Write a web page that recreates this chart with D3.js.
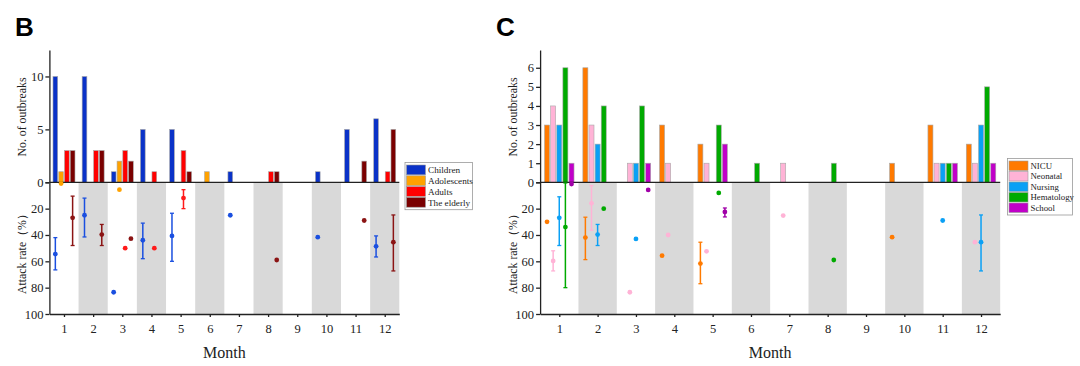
<!DOCTYPE html>
<html><head><meta charset="utf-8">
<script src="https://cdn.jsdelivr.net/npm/d3@7"></script>
<style>body{margin:0;background:#fff;} svg{display:block;} svg text{font-family:"Liberation Serif","Times New Roman",serif;}</style>
</head><body><svg id="c" width="1080" height="366"></svg>
<script>
// ---------- shared ----------
const months = [1,2,3,4,5,6,7,8,9,10,11,12];
const monthLabels = ["1","2","3","4","5","6","7","8","9","10","11","12"];
const rateTicks = [0,20,40,60,80,100];

// ---------- Panel B ----------
const seriesB = ["Children","Adolescents","Adults","The elderly"];
const barColorsB = ["#0a32c8","#ffa200","#ff0000","#7a0000"];
const dotColorsB = ["#1a4fe0","#ffa200","#ff1a1a","#8b1414"];
const countTicksB = [0,5,10];
const childrenCount    = [10,10,1,5,5,0,1,0,0,1,5,6];
const adolescentsCount = [1,0,2,0,0,1,0,0,0,0,0,0];
const adultsCount      = [3,3,3,1,3,0,0,1,0,0,0,1];
const elderlyCount     = [3,3,2,0,1,0,0,1,0,0,2,5];
const childrenRate    = [54.5,25,83.5,44,40.7,null,25,null,null,41.7,null,48.6];
const childrenLo      = [42,12,null,31,23.5,null,null,null,null,null,null,40.7];
const childrenHi      = [66.5,41.5,null,58,60,null,null,null,null,null,null,56.7];
const adolescentsRate = [1,null,5.6,null,null,null,null,null,null,null,null,null];
const adolescentsLo   = [null,null,null,null,null,null,null,null,null,null,null,null];
const adolescentsHi   = [null,null,null,null,null,null,null,null,null,null,null,null];
const adultsRate      = [null,null,50,50,12,null,null,null,null,null,null,null];
const adultsLo        = [null,null,null,null,5.6,null,null,null,null,null,null,null];
const adultsHi        = [null,null,null,null,20,null,null,null,null,null,null,null];
const elderlyRate     = [27,39.7,42.8,null,null,null,null,59,null,null,29,45.5];
const elderlyLo       = [10.5,32,null,null,null,null,null,null,null,null,null,24.8];
const elderlyHi       = [48,48,null,null,null,null,null,null,null,null,null,67.3];

// ---------- Panel C ----------
const seriesC = ["NICU","Neonatal","Nursing","Hematology","School"];
const barColorsC = ["#ff7a00","#ffb3d6","#0aa0f5","#00aa00","#c000c8"];
const dotColorsC = ["#ff7a00","#ffb3d6","#0aa0f5","#00aa00","#a000a8"];
const countTicksC = [0,1,2,3,4,5,6];
const nicuCount       = [3,6,0,3,2,0,0,0,0,1,3,2];
const neonatalCount   = [4,3,1,1,1,0,1,0,0,0,1,1];
const nursingCount    = [3,2,1,0,0,0,0,0,0,0,1,3];
const hematologyCount = [6,4,4,0,3,1,0,1,0,0,1,5];
const schoolCount     = [1,0,1,0,2,0,0,0,0,0,1,1];
const nicuRate        = [30,42,null,55.7,61.7,null,null,null,null,41.7,null,null];
const nicuLo          = [null,26.5,null,null,45.5,null,null,null,null,null,null,null];
const nicuHi          = [null,58.7,null,null,77,null,null,null,null,null,null,null];
const neonatalRate    = [59.7,16,83.5,40,52.4,null,25.3,null,null,null,null,45.5];
const neonatalLo      = [52,2.5,null,null,null,null,null,null,null,null,null,null];
const neonatalHi      = [67.3,36.4,null,null,null,null,null,null,null,null,null,null];
const nursingRate     = [27,39.7,43,null,null,null,null,null,null,null,29,45.5];
const nursingLo       = [11,32,null,null,null,null,null,null,null,null,null,24.8];
const nursingHi       = [48,48,null,null,null,null,null,null,null,null,null,67.3];
const hematologyRate  = [34,20,null,null,8.1,null,null,59,null,null,null,null];
const hematologyLo    = [0.5,null,null,null,null,null,null,null,null,null,null,null];
const hematologyHi    = [80,null,null,null,null,null,null,null,null,null,null,null];
const schoolRate      = [1.3,null,5.8,null,22.5,null,null,null,null,null,null,null];
const schoolLo        = [null,null,null,null,19.5,null,null,null,null,null,null,null];
const schoolHi        = [null,null,null,null,26.3,null,null,null,null,null,null,null];

const svg = d3.select("#c");
const SERIF = "Liberation Serif, Times New Roman, serif";
const Y_TOP = 50, Y_ZERO = 182.3, Y_BOT = 314;

function drawPanel(cfg) {
  const g = svg.append("g");
  const x = d3.scaleLinear().domain([0.5, 12.5]).range([cfg.x0, cfg.x1]);
  const yTop = d3.scaleLinear().domain([0, cfg.topMax]).range([Y_ZERO, Y_TOP]);
  const yBot = d3.scaleLinear().domain([0, 100]).range([Y_ZERO, Y_BOT]);
  const band = d3.scaleBand().domain(cfg.series).range([-cfg.groupW/2, cfg.groupW/2]).paddingInner(0.18);

  // shaded bands (even months) in lower panel
  g.selectAll("rect.shade").data(months.filter(m => m % 2 === 0)).join("rect")
    .attr("x", m => x(m - 0.5)).attr("width", m => x(m + 0.5) - x(m - 0.5))
    .attr("y", Y_ZERO).attr("height", Y_BOT - Y_ZERO).attr("fill", "#d9d9d9");

  // bars
  cfg.series.forEach((s, i) => {
    const data = months.map((m, j) => ({m, v: cfg.counts[i][j]})).filter(d => d.v > 0);
    g.selectAll(null).data(data).join("rect")
      .attr("x", d => x(d.m) + band(s)).attr("width", band.bandwidth())
      .attr("y", d => yTop(d.v)).attr("height", d => yTop(0) - yTop(d.v))
      .attr("fill", cfg.barColors[i]).attr("stroke", "#a8a8a8").attr("stroke-width", 0.6);
  });

  // zero line
  g.append("line").attr("x1", x(0.5)).attr("x2", x(12.5)).attr("y1", Y_ZERO).attr("y2", Y_ZERO)
    .attr("stroke", "#222").attr("stroke-width", 1.3);

  // axes
  const fmt = d3.format("d");
  const axTop = g.append("g").attr("transform", `translate(${x(0.5)},0)`)
    .call(d3.axisLeft(yTop).tickValues(cfg.countTicks).tickFormat(fmt).tickSize(4).tickSizeOuter(0).tickPadding(2));
  const axBot = g.append("g").attr("transform", `translate(${x(0.5)},0)`)
    .call(d3.axisLeft(yBot).tickValues(rateTicks).tickFormat(fmt).tickSize(4).tickSizeOuter(0).tickPadding(2));
  axBot.selectAll(".tick").filter(d => d === 0).select("text").remove();
  const axX = g.append("g").attr("transform", `translate(0,${Y_BOT})`)
    .call(d3.axisBottom(x).tickValues(months).tickFormat((d, i) => monthLabels[i]).tickSize(3).tickSizeOuter(0).tickPadding(7));
  [axTop, axBot, axX].forEach(a => {
    a.attr("font-family", SERIF).attr("font-size", 12.5);
    a.selectAll("text").style("font-family", SERIF).attr("fill", "#222");
    a.selectAll("line,path").attr("stroke", "#222").attr("stroke-width", 1.3);
  });

  // attack-rate points and error bars
  cfg.series.forEach((s, i) => {
    const cx = m => x(m) + band(s) + band.bandwidth() / 2;
    const pts = months.map((m, j) => ({m, v: cfg.rates[i][j], lo: cfg.los[i][j], hi: cfg.his[i][j]})).filter(d => d.v != null);
    const err = pts.filter(d => d.lo != null);
    const col = cfg.dotColors[i];
    g.selectAll(null).data(err).join("line")
      .attr("x1", d => cx(d.m)).attr("x2", d => cx(d.m)).attr("y1", d => yBot(d.lo)).attr("y2", d => yBot(d.hi))
      .attr("stroke", col).attr("stroke-width", 1.5);
    ["lo", "hi"].forEach(k => {
      g.selectAll(null).data(err).join("line")
        .attr("x1", d => cx(d.m) - 2).attr("x2", d => cx(d.m) + 2).attr("y1", d => yBot(d[k])).attr("y2", d => yBot(d[k]))
        .attr("stroke", col).attr("stroke-width", 1.3);
    });
    g.selectAll(null).data(pts).join("circle")
      .attr("cx", d => cx(d.m)).attr("cy", d => yBot(d.v)).attr("r", 2.4).attr("fill", col);
  });

  // labels
  g.append("text").attr("x", cfg.letterX).attr("y", 36).text(cfg.letter)
    .style("font-family", "Liberation Sans, Arial, sans-serif").attr("font-weight", "bold").attr("font-size", 26).attr("fill", "#000");
  g.append("text").attr("transform", `translate(${cfg.x0 - 23},117) rotate(-90)`).attr("text-anchor", "middle")
    .style("font-family", SERIF).attr("font-size", 11.8).attr("fill", "#222").text("No. of outbreaks");
  g.append("text").attr("transform", `translate(${cfg.x0 - 23},251) rotate(-90)`).attr("text-anchor", "middle")
    .style("font-family", SERIF).attr("font-size", 11.8).attr("fill", "#222").text("Attack rate（%）");
  g.append("text").attr("x", (cfg.x0 + cfg.x1) / 2).attr("y", 358).attr("text-anchor", "middle")
    .style("font-family", SERIF).attr("font-size", 16).attr("fill", "#222").text("Month");

  // legend
  const L = cfg.legend;
  const lg = svg.append("g").attr("transform", `translate(${L.x},${L.y})`);
  lg.append("rect").attr("x", 0).attr("y", 0).attr("width", L.w).attr("height", cfg.series.length * L.row + 4)
    .attr("fill", "#fff").attr("stroke", "#999").attr("stroke-width", 0.8);
  cfg.series.forEach((s, i) => {
    lg.append("rect").attr("x", 1.5).attr("y", 2 + i * L.row + 0.5).attr("width", 19).attr("height", L.row - 1)
      .attr("fill", cfg.barColors[i]).attr("stroke", "#999").attr("stroke-width", 0.6);
    lg.append("text").attr("x", 23).attr("y", 2 + i * L.row + L.row / 2).attr("dy", "0.35em")
      .style("font-family", SERIF).attr("font-size", L.fs).attr("fill", "#222").text(s);
  });
}

drawPanel({
  x0: 49.4, x1: 399.3, topMax: 12.5, countTicks: countTicksB, series: seriesB,
  barColors: barColorsB, dotColors: dotColorsB, groupW: 22,
  counts: [childrenCount, adolescentsCount, adultsCount, elderlyCount],
  rates: [childrenRate, adolescentsRate, adultsRate, elderlyRate],
  los: [childrenLo, adolescentsLo, adultsLo, elderlyLo],
  his: [childrenHi, adolescentsHi, adultsHi, elderlyHi],
  letter: "B", letterX: 15,
  legend: {x: 405, y: 162.5, w: 67.5, row: 10.8, fs: 9.2}
});
drawPanel({
  x0: 540.1, x1: 1000.2, topMax: 6.93, countTicks: countTicksC, series: seriesC,
  barColors: barColorsC, dotColors: dotColorsC, groupW: 29.5,
  counts: [nicuCount, neonatalCount, nursingCount, hematologyCount, schoolCount],
  rates: [nicuRate, neonatalRate, nursingRate, hematologyRate, schoolRate],
  los: [nicuLo, neonatalLo, nursingLo, hematologyLo, schoolLo],
  his: [nicuHi, neonatalHi, nursingHi, hematologyHi, schoolHi],
  letter: "C", letterX: 496,
  legend: {x: 1007.5, y: 158.5, w: 65, row: 10.5, fs: 8.8}
});
</script></body></html>
